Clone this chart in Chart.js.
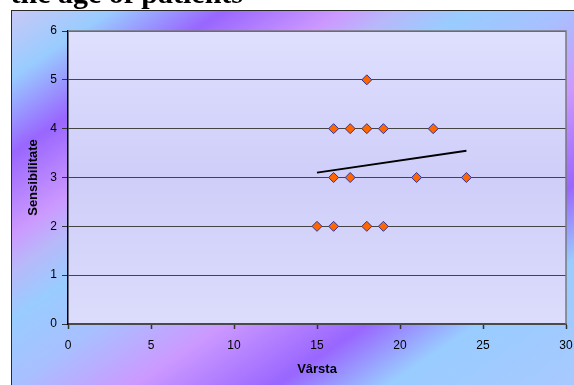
<!DOCTYPE html>
<html>
<head>
<meta charset="utf-8">
<script src="https://cdn.jsdelivr.net/npm/chart.js@4.4.0/dist/chart.umd.min.js"></script>
<style>
    html, body {
        margin: 0;
        padding: 0;
        width: 574px;
        height: 385px;
        overflow: hidden;
        background: #fff;
    }
    #chartTitle {
        position: absolute;
        right: 331px;
        top: -22px;
        white-space: nowrap;
        font-family: "Liberation Serif", "Times New Roman", serif;
        font-weight: bold;
        font-size: 30px;
        line-height: 30px;
        color: #000;
        z-index: 3;
    }
    #frame {
        position: absolute;
        left: 11px;
        top: 10px;
        width: 620px;
        height: 400px;
        border: 1.5px solid #2a2a2a;
        background: linear-gradient(146deg,
            #c8c8f6 0px, #99ccff 55px, #9966ff 118px, #cc99ff 185px,
            #b8b8fa 215px, #99ccff 255px, #a8c0ff 310px, #cc99ff 378px,
            #9966ff 458px, #99ccff 520px, #b0c8ff 679px);
        z-index: 1;
    }
    #wrap {
        position: absolute;
        left: 0;
        top: 0;
        width: 574px;
        height: 385px;
        z-index: 2;
    }
</style>
</head>
<body>
<div id="chartTitle">Sensitivity after the age of patients</div>
<div id="frame"></div>
<div id="wrap"><canvas id="ageChart" width="574" height="385"></canvas></div>
<script>
// data
const ageValues = [18, 16, 17, 18, 19, 22, 16, 17, 21, 24, 15, 16, 18, 19];
const sensValues = [5, 4, 4, 4, 4, 4, 3, 3, 3, 3, 2, 2, 2, 2];
const trendAge = [15, 24];
const trendSens = [3.1, 3.55];

const xTicks = [0, 5, 10, 15, 20, 25, 30];
const yTicks = [0, 1, 2, 3, 4, 5, 6];

const pointData = ageValues.map((a, i) => ({ x: a, y: sensValues[i] }));
const trendData = trendAge.map((a, i) => ({ x: a, y: trendSens[i] }));

// plot area fill + gray top/right border
const plotAreaPlugin = {
    id: "plotArea",
    beforeDraw(chart) {
        const { ctx, chartArea: a } = chart;
        ctx.save();
        const g = ctx.createLinearGradient(0, a.top, 0, a.bottom);
        g.addColorStop(0, "#dfdffe");
        g.addColorStop(0.5, "#cecef9");
        g.addColorStop(1, "#dcdcfc");
        ctx.fillStyle = g;
        ctx.fillRect(a.left, a.top, a.right - a.left, a.bottom - a.top);
        ctx.restore();
    },
    afterDraw(chart) {
        const { ctx, chartArea: a } = chart;
        ctx.save();
        ctx.strokeStyle = "#7a7a7a";
        ctx.lineWidth = 1.5;
        ctx.beginPath();
        ctx.moveTo(a.left, a.top);
        ctx.lineTo(a.right, a.top);
        ctx.lineTo(a.right, a.bottom);
        ctx.stroke();
        ctx.restore();
    },
};

const tickFont = { family: "'Liberation Sans', Arial, sans-serif", size: 12 };
const titleFont = { family: "'Liberation Sans', Arial, sans-serif", size: 13, weight: "bold" };

new Chart(document.getElementById("ageChart"), {
    type: "scatter",
    data: {
        datasets: [
            {
                label: "Sensibilitate",
                data: pointData,
                pointStyle: "rectRot",
                pointRadius: 5,
                pointBackgroundColor: "#ff6600",
                pointBorderColor: "#333399",
                pointBorderWidth: 1,
                showLine: false,
            },
            {
                label: "Trend",
                data: trendData,
                showLine: true,
                borderColor: "#000",
                borderWidth: 2,
                pointRadius: 0,
                fill: false,
            },
        ],
    },
    options: {
        responsive: false,
        animation: false,
        events: [],
        layout: { padding: { left: 0, right: 0, top: 31, bottom: 0 } },
        plugins: {
            legend: { display: false },
            title: { display: false },
            tooltip: { enabled: false },
        },
        scales: {
            x: {
                type: "linear",
                min: 0,
                max: 30,
                afterBuildTicks: (scale) => {
                    scale.ticks = xTicks.map((v) => ({ value: v }));
                },
                afterFit: (scale) => {
                    scale.height = 61;
                    scale.paddingLeft = 0;
                    scale.paddingRight = 8;
                },
                ticks: { color: "#000", font: tickFont, padding: 9, maxRotation: 0 },
                grid: {
                    drawOnChartArea: false,
                    drawTicks: true,
                    tickLength: 5,
                    tickColor: "#333",
                    tickWidth: 1.5,
                },
                border: { color: "#4a4a4a", width: 2 },
                title: { display: true, text: "Vârsta", color: "#000", font: titleFont, padding: { top: 0, bottom: 8 } },
            },
            y: {
                type: "linear",
                min: 0,
                max: 6,
                afterBuildTicks: (scale) => {
                    scale.ticks = yTicks.map((v) => ({ value: v }));
                },
                afterFit: (scale) => {
                    scale.width = 68;
                },
                ticks: { color: "#000", font: tickFont, padding: 5 },
                grid: {
                    color: "#444",
                    lineWidth: 1,
                    drawTicks: true,
                    tickLength: 6,
                    tickColor: "#333",
                },
                border: { color: "#000", width: 1.5 },
                title: { display: true, text: "Sensibilitate", color: "#000", font: titleFont, padding: { top: 26, bottom: 0 } },
            },
        },
    },
    plugins: [plotAreaPlugin],
});
</script>
</body>
</html>
